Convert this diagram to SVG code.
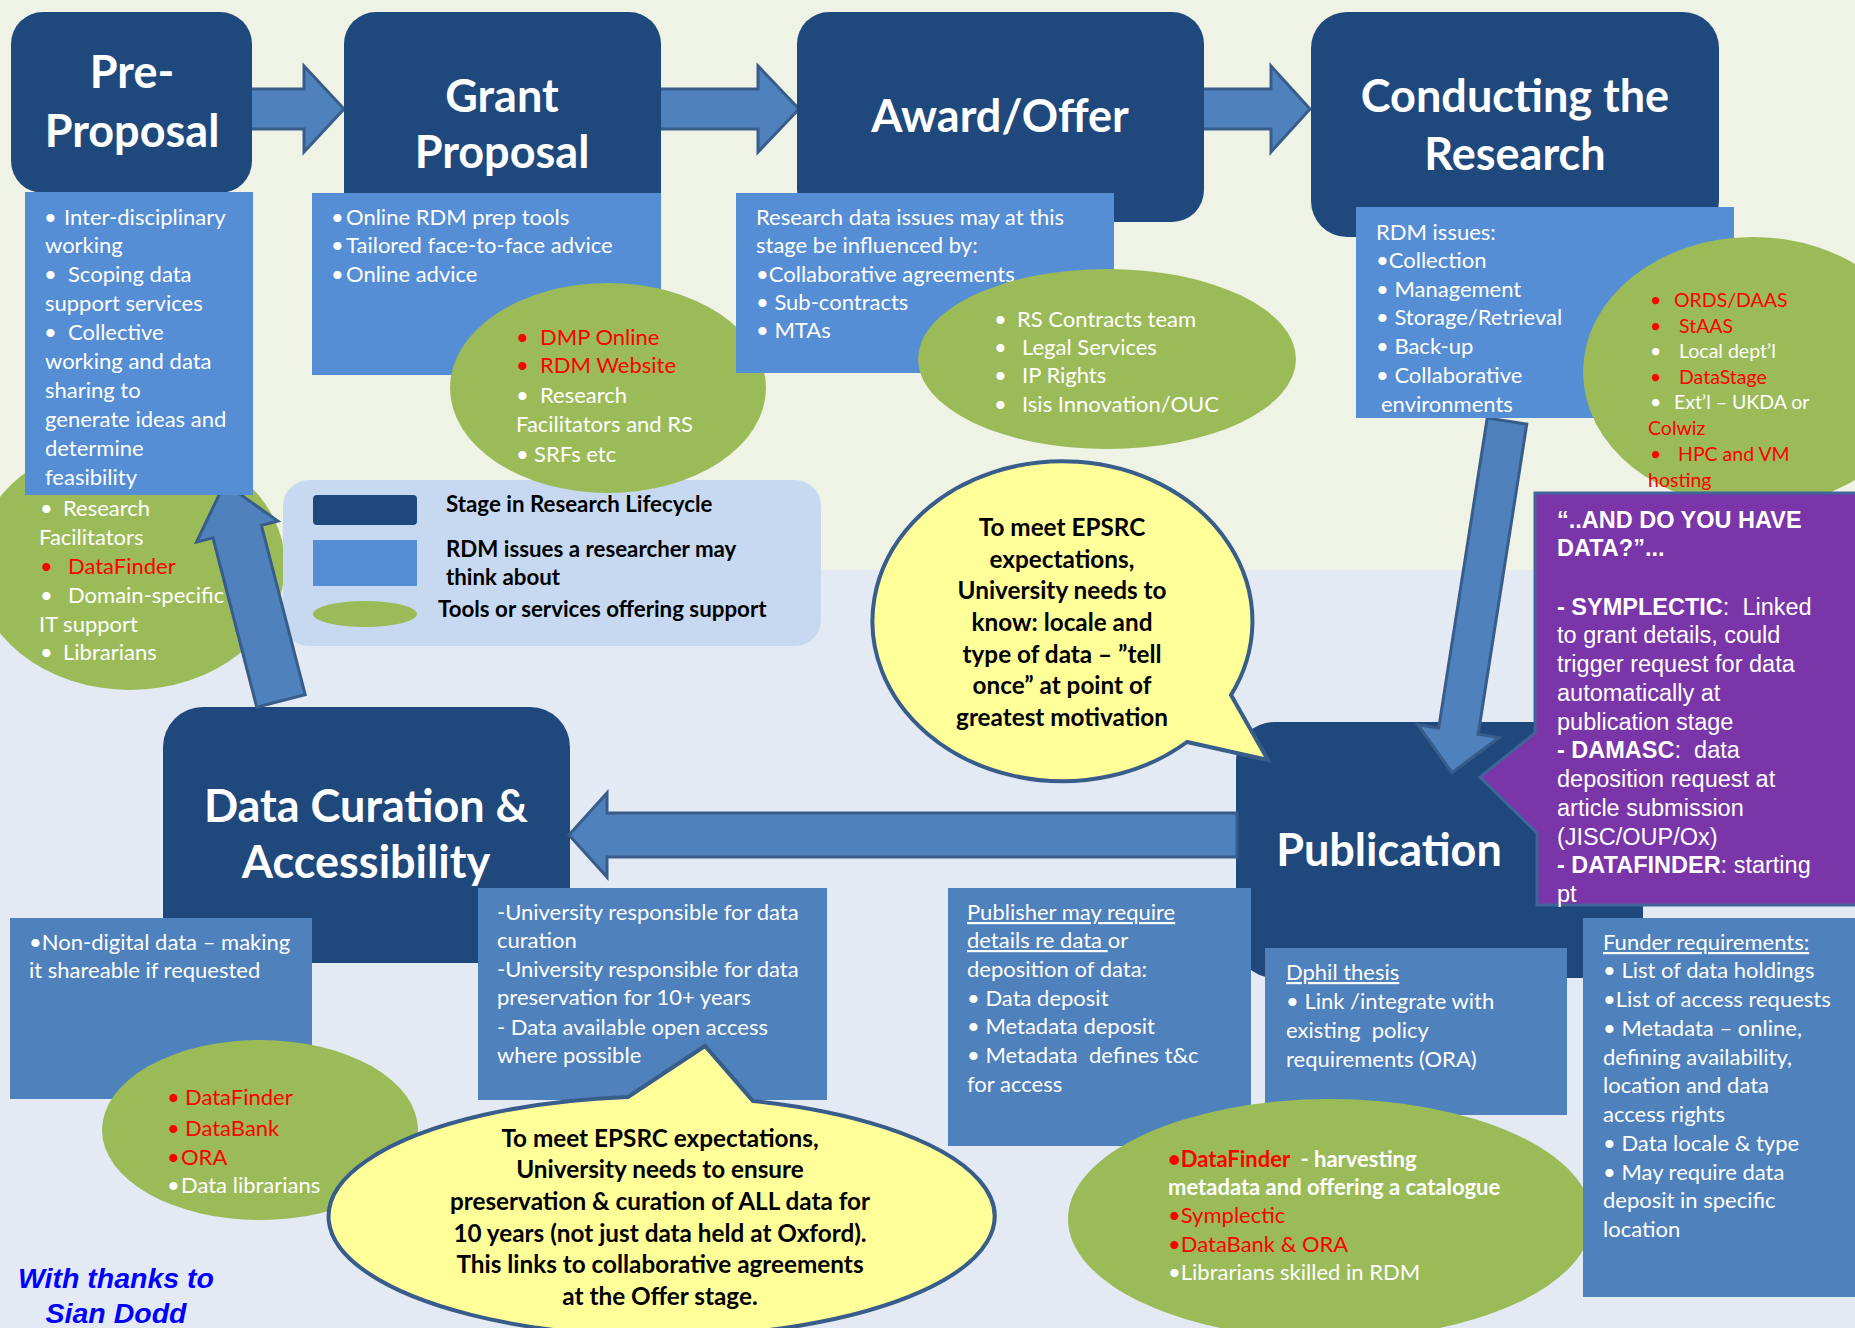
<svg xmlns="http://www.w3.org/2000/svg" width="1855" height="1328" viewBox="0 0 1855 1328">
<defs>
<style>
.t{font-family:Lato,'Liberation Sans',sans-serif;font-size:22px;fill:#fff}
.s{font-size:19.5px}
.ttl{font-family:Lato,'Liberation Sans',sans-serif;font-size:45px;font-weight:bold;fill:#fff;text-anchor:middle}
.r{fill:#ff0000}
.w{fill:#fff}
.b{font-weight:bold}
.u{text-decoration:underline}
.blk{font-family:Lato,'Liberation Sans',sans-serif;font-size:24.3px;font-weight:bold;fill:#000;text-anchor:middle}
.lg{font-family:Lato,'Liberation Sans',sans-serif;font-size:22.3px;font-weight:bold;fill:#000}
.ar{font-family:'Liberation Sans',Arial,sans-serif;font-size:23.5px;fill:#fff}
.stage{fill:#1F497D}
.top{fill:#558ED5}
.bot{fill:#4F81BD}
.tool{fill:#9BBB59}
.arrow{fill:#4F81BD;stroke:#385D8A;stroke-width:3;stroke-linejoin:miter}
.call{fill:#FFFF99;stroke:#385D8A;stroke-width:4}
</style>
</defs>

<rect x="0" y="0" width="1855" height="570" fill="#EFF3E5"/>
<rect x="0" y="570" width="1855" height="758" fill="#E3EAF4"/>

<g id="pre-proposal-tools">
<ellipse class="tool" cx="130" cy="565" rx="155" ry="125"/>
<text class="t"><tspan x="40" y="516">•</tspan><tspan x="63">Research</tspan></text>
<text class="t" x="39" y="545">Facilitators</text>
<text class="t r"><tspan x="40" y="574">•</tspan><tspan x="68">DataFinder</tspan></text>
<text class="t"><tspan x="40" y="603">•</tspan><tspan x="68">Domain-specific</tspan></text>
<text class="t" x="39" y="632">IT support</text>
<text class="t"><tspan x="40" y="660">•</tspan><tspan x="63">Librarians</tspan></text>
</g>

<g id="legend">
<rect x="283" y="480" width="538" height="166" rx="26" fill="#C6D9F1"/>
<rect class="stage" x="313" y="495" width="104" height="30" rx="4"/>
<rect class="top" x="313" y="540" width="104" height="46"/>
<ellipse class="tool" cx="365" cy="614" rx="52" ry="13"/>
<text class="lg" x="446" y="512">Stage in Research Lifecycle</text>
<text class="lg" x="446" y="557">RDM issues a researcher may</text>
<text class="lg" x="446" y="585">think about</text>
<text class="lg" x="438" y="617">Tools or services offering support</text>
</g>

<g id="curation-stage">
<rect class="stage" x="163" y="707" width="407" height="256" rx="40"/>
<text class="ttl" x="366" y="822">Data Curation &amp;</text>
<text class="ttl" x="366" y="878">Accessibility</text>
</g>

<g id="publication-stage">
<rect class="stage" x="1236" y="722" width="407" height="256" rx="38"/>
<text class="ttl" x="1389" y="866">Publication</text>
</g>

<g id="connectors">
<path class="arrow" d="M250,89 H304 V66 L344,109 L304,152 V129 H250 Z"/>
<path class="arrow" d="M659,89 H758 V66 L799,109 L758,152 V129 H659 Z"/>
<path class="arrow" d="M1202,89 H1271 V66 L1310,109 L1271,152 V129 H1202 Z"/>
<path class="arrow" transform="translate(1507,421) rotate(8.9)" d="M-20,0 V314 H-41 L0,356 L41,314 H20 V0 Z"/>
<path class="arrow" d="M1237,813 H607 V793 L569,835 L607,877 V857 H1237 Z"/>
<path class="arrow" transform="translate(281,701) rotate(-14.5)" d="M-25,0 V-175 H-42 L0,-225 L42,-175 H25 V0 Z"/>
</g>

<g id="pre-proposal-stage">
<rect class="stage" x="11" y="12" width="241" height="181" rx="32"/>
<text class="ttl" x="132" y="88">Pre-</text>
<text class="ttl" x="132" y="147">Proposal</text>
</g>
<g id="pre-proposal-issues">
<rect class="top" x="25" y="192" width="228" height="303"/>
<text class="t"><tspan x="44" y="225">•</tspan><tspan x="64">Inter-disciplinary</tspan></text>
<text class="t" x="45" y="253">working</text>
<text class="t"><tspan x="44" y="282">•</tspan><tspan x="68">Scoping data</tspan></text>
<text class="t" x="45" y="311">support services</text>
<text class="t"><tspan x="44" y="340">•</tspan><tspan x="68">Collective</tspan></text>
<text class="t" x="45" y="369">working and data</text>
<text class="t" x="45" y="398">sharing to</text>
<text class="t" x="45" y="427">generate ideas and</text>
<text class="t" x="45" y="456">determine</text>
<text class="t" x="45" y="485">feasibility</text>
</g>

<g id="grant-stage">
<rect class="stage" x="344" y="12" width="317" height="220" rx="32"/>
<text class="ttl" x="502" y="112">Grant</text>
<text class="ttl" x="502" y="168">Proposal</text>
</g>
<g id="grant-issues">
<rect class="top" x="312" y="193" width="349" height="182"/>
<text class="t"><tspan x="331" y="225">•</tspan><tspan x="346">Online RDM prep tools</tspan></text>
<text class="t"><tspan x="331" y="253">•</tspan><tspan x="346">Tailored face-to-face advice</tspan></text>
<text class="t"><tspan x="331" y="282">•</tspan><tspan x="346">Online advice</tspan></text>
</g>
<g id="grant-tools">
<ellipse class="tool" cx="608" cy="388" rx="158" ry="105"/>
<text class="t r"><tspan x="516" y="345">•</tspan><tspan x="540">DMP Online</tspan></text>
<text class="t r"><tspan x="516" y="373">•</tspan><tspan x="540">RDM Website</tspan></text>
<text class="t"><tspan x="516" y="403">•</tspan><tspan x="540">Research</tspan></text>
<text class="t" x="516" y="432">Facilitators and RS</text>
<text class="t"><tspan x="516" y="462">•</tspan><tspan x="534">SRFs etc</tspan></text>
</g>

<g id="award-stage">
<rect class="stage" x="797" y="12" width="407" height="210" rx="32"/>
<text class="ttl" x="1000" y="132">Award/Offer</text>
</g>
<g id="award-issues">
<rect class="top" x="736" y="193" width="378" height="180"/>
<text class="t" x="756" y="225">Research data issues may at this</text>
<text class="t" x="756" y="253">stage be influenced by:</text>
<text class="t" x="756" y="282">•Collaborative agreements</text>
<text class="t" x="756" y="310">• Sub-contracts</text>
<text class="t" x="756" y="338">• MTAs</text>
</g>
<g id="award-tools">
<ellipse class="tool" cx="1107" cy="359" rx="189" ry="90"/>
<text class="t"><tspan x="994" y="327">•</tspan><tspan x="1017">RS Contracts team</tspan></text>
<text class="t"><tspan x="994" y="355">•</tspan><tspan x="1022">Legal Services</tspan></text>
<text class="t"><tspan x="994" y="383">•</tspan><tspan x="1022">IP Rights</tspan></text>
<text class="t"><tspan x="994" y="412">•</tspan><tspan x="1022">Isis Innovation/OUC</tspan></text>
</g>

<g id="conducting-stage">
<rect class="stage" x="1311" y="12" width="408" height="225" rx="36"/>
<text class="ttl" x="1515" y="112">Conducting the</text>
<text class="ttl" x="1515" y="170">Research</text>
</g>
<g id="conducting-issues">
<rect class="top" x="1356" y="207" width="378" height="211"/>
<text class="t" x="1376" y="240">RDM issues:</text>
<text class="t" x="1376" y="268">•Collection</text>
<text class="t" x="1376" y="297">• Management</text>
<text class="t" x="1376" y="325">• Storage/Retrieval</text>
<text class="t" x="1376" y="354">• Back-up</text>
<text class="t" x="1376" y="383">• Collaborative</text>
<text class="t" x="1381" y="412">environments</text>
</g>
<g id="conducting-tools">
<ellipse class="tool" cx="1753" cy="372" rx="170" ry="135"/>
<text class="t s r"><tspan x="1650" y="307">•</tspan><tspan x="1674">ORDS/DAAS</tspan></text>
<text class="t s r"><tspan x="1650" y="333">•</tspan><tspan x="1679">StAAS</tspan></text>
<text class="t s"><tspan x="1650" y="358">•</tspan><tspan x="1679">Local dept’l</tspan></text>
<text class="t s r"><tspan x="1650" y="384">•</tspan><tspan x="1679">DataStage</tspan></text>
<text class="t s"><tspan x="1650" y="409">•</tspan><tspan x="1674">Ext’l – UKDA or</tspan></text>
<text class="t s r" x="1648" y="435">Colwiz</text>
<text class="t s r"><tspan x="1650" y="461">•</tspan><tspan x="1678">HPC and VM</tspan></text>
<text class="t s r" x="1648" y="487">hosting</text>
</g>

<g id="have-data-callout">
<path d="M1535,493 H1860 V905 H1537 V833 L1480,777 L1535,733 Z" fill="#7A35A8" stroke="#41649A" stroke-width="3"/>
<text class="ar b" x="1557" y="528">“..AND DO YOU HAVE</text>
<text class="ar b" x="1557" y="556">DATA?”...</text>
<text class="ar" x="1557" y="615"><tspan class="b">- SYMPLECTIC</tspan>:&#160; Linked</text>
<text class="ar" x="1557" y="643">to grant details, could</text>
<text class="ar" x="1557" y="672">trigger request for data</text>
<text class="ar" x="1557" y="701">automatically at</text>
<text class="ar" x="1557" y="730">publication stage</text>
<text class="ar" x="1557" y="758"><tspan class="b">- DAMASC</tspan>:&#160; data</text>
<text class="ar" x="1557" y="787">deposition request at</text>
<text class="ar" x="1557" y="816">article submission</text>
<text class="ar" x="1557" y="845">(JISC/OUP/Ox)</text>
<text class="ar" x="1557" y="873"><tspan class="b">- DATAFINDER</tspan>: starting</text>
<text class="ar" x="1557" y="902">pt</text>
</g>

<g id="epsrc-callout-top">
<path class="call" d="M1231,695 A190,160 0 1 0 1187,742 L1268,760 Z"/>
<text class="blk" x="1062" y="536">To meet EPSRC</text>
<text class="blk" x="1062" y="568">expectations,</text>
<text class="blk" x="1062" y="599">University needs to</text>
<text class="blk" x="1062" y="631">know: locale and</text>
<text class="blk" x="1062" y="663">type of data – ”tell</text>
<text class="blk" x="1062" y="694">once” at point of</text>
<text class="blk" x="1062" y="726">greatest motivation</text>
</g>

<g id="curation-nondigital">
<rect class="bot" x="10" y="918" width="302" height="181"/>
<text class="t" x="29" y="950">•Non-digital data – making</text>
<text class="t" x="29" y="978">it shareable if requested</text>
</g>
<g id="curation-tools">
<ellipse class="tool" cx="260" cy="1130" rx="158" ry="90"/>
<text class="t r"><tspan x="167" y="1105">•</tspan><tspan x="185">DataFinder</tspan></text>
<text class="t r"><tspan x="167" y="1136">•</tspan><tspan x="185">DataBank</tspan></text>
<text class="t r"><tspan x="167" y="1165">•</tspan><tspan x="181">ORA</tspan></text>
<text class="t"><tspan x="167" y="1193">•</tspan><tspan x="181">Data librarians</tspan></text>
</g>
<g id="curation-university">
<rect class="bot" x="478" y="888" width="349" height="212"/>
<text class="t" x="497" y="920">-University responsible for data</text>
<text class="t" x="497" y="948">curation</text>
<text class="t" x="497" y="977">-University responsible for data</text>
<text class="t" x="497" y="1005">preservation for 10+ years</text>
<text class="t" x="497" y="1035">- Data available open access</text>
<text class="t" x="497" y="1063">where possible</text>
</g>
<g id="epsrc-callout-bottom">
<path class="call" d="M753,1101 A333,120 0 1 1 628,1097 L705,1046 Z"/>
<text class="blk" x="660" y="1147">To meet EPSRC expectations,</text>
<text class="blk" x="660" y="1178">University needs to ensure</text>
<text class="blk" x="660" y="1210">preservation &amp; curation of ALL data for</text>
<text class="blk" x="660" y="1242">10 years (not just data held at Oxford).</text>
<text class="blk" x="660" y="1273">This links to collaborative agreements</text>
<text class="blk" x="660" y="1305">at the Offer stage.</text>
</g>

<g id="publication-publisher">
<rect class="bot" x="948" y="888" width="303" height="258"/>
<text class="t u" x="967" y="920">Publisher may require</text>
<text class="t" x="967" y="948"><tspan class="u">details re data&#160;</tspan>or</text>
<text class="t" x="967" y="977">deposition of data:</text>
<text class="t" x="967" y="1006">• Data deposit</text>
<text class="t" x="967" y="1034">• Metadata deposit</text>
<text class="t" x="967" y="1063">• Metadata&#160; defines t&amp;c</text>
<text class="t" x="967" y="1092">for access</text>
</g>
<g id="publication-dphil">
<rect class="bot" x="1265" y="948" width="302" height="167"/>
<text class="t u" x="1286" y="980">Dphil thesis</text>
<text class="t" x="1286" y="1009">• Link /integrate with</text>
<text class="t" x="1286" y="1038">existing&#160; policy</text>
<text class="t" x="1286" y="1067">requirements (ORA)</text>
</g>
<g id="publication-tools">
<ellipse class="tool" cx="1330" cy="1219" rx="262" ry="120"/>
<text class="t b" x="1168" y="1167"><tspan class="r">•DataFinder</tspan>&#160; - harvesting</text>
<text class="t b" x="1168" y="1195">metadata and offering a catalogue</text>
<text class="t r" x="1168" y="1223">•Symplectic</text>
<text class="t r" x="1168" y="1252">•DataBank &amp; ORA</text>
<text class="t" x="1168" y="1280">•Librarians skilled in RDM</text>
</g>
<g id="publication-funder">
<rect class="bot" x="1583" y="918" width="280" height="379"/>
<text class="t u" x="1603" y="950">Funder requirements:</text>
<text class="t" x="1603" y="978">• List of data holdings</text>
<text class="t" x="1603" y="1007">•List of access requests</text>
<text class="t" x="1603" y="1036">• Metadata – online,</text>
<text class="t" x="1603" y="1065">defining availability,</text>
<text class="t" x="1603" y="1093">location and data</text>
<text class="t" x="1603" y="1122">access rights</text>
<text class="t" x="1603" y="1151">• Data locale &amp; type</text>
<text class="t" x="1603" y="1180">• May require data</text>
<text class="t" x="1603" y="1208">deposit in specific</text>
<text class="t" x="1603" y="1237">location</text>
</g>

<g id="credit">
<text x="116" y="1288" font-family="'Liberation Sans',Arial,sans-serif" font-size="28.5" font-weight="bold" font-style="italic" fill="#0000FF" text-anchor="middle">With thanks to</text>
<text x="116" y="1323" font-family="'Liberation Sans',Arial,sans-serif" font-size="28.5" font-weight="bold" font-style="italic" fill="#0000FF" text-anchor="middle">Sian Dodd</text>
</g>
</svg>
